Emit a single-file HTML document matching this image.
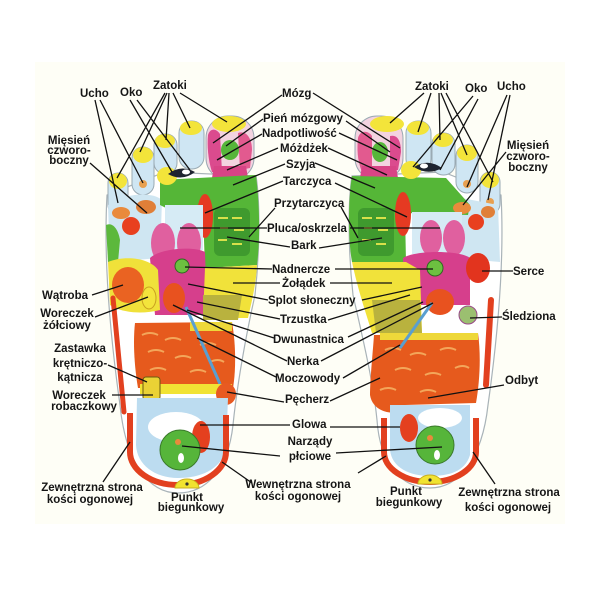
<!DOCTYPE html>
<html><head><meta charset="utf-8">
<style>
html,body{margin:0;padding:0;background:#fff;}
svg{display:block;}
text{font-family:"Liberation Sans","DejaVu Sans",sans-serif;font-weight:bold;font-size:11.5px;fill:#151515;}
</style></head><body>
<svg width="600" height="600" viewBox="0 0 600 600" xmlns="http://www.w3.org/2000/svg">
<rect width="600" height="600" fill="#fff"/>
<rect x="35" y="62" width="530" height="462" fill="#fefef6"/>

<!-- ================= LEFT FOOT ================= -->
<g>
 <path d="M107,195 C104,250 108,320 120,405 C126,465 150,493 178,493 C206,493 228,470 233,425 C237,385 246,335 255,295 C260,250 260,200 256,176 L165,172 Z" fill="#fff" stroke="#a9b3b8" stroke-width="1.2"/>
 <!-- toes -->
 <rect x="108" y="173" width="20" height="42" rx="10" fill="#cfe6f3" stroke="#9aaab3"/>
 <rect x="132" y="147" width="22" height="48" rx="11" fill="#cfe6f3" stroke="#9aaab3"/>
 <rect x="154" y="134" width="23" height="40" rx="11" fill="#cfe6f3" stroke="#9aaab3"/>
 <rect x="179" y="121" width="25" height="48" rx="12" fill="#cfe6f3" stroke="#9aaab3"/>
 <rect x="206" y="116" width="48" height="64" rx="22" fill="#f3d3e0" stroke="#9aaab3"/>
 <path d="M208,135 C210,128 216,128 220,134 L222,172 L212,172 C208,160 207,145 208,135 Z" fill="#db4b8e"/>
 <path d="M238,133 C246,130 252,138 252,150 L250,168 L240,170 Z" fill="#e25a8f"/>
 <ellipse cx="230" cy="150" rx="9" ry="10" fill="#56b63a"/>
 <path d="M214,166 L246,166 L248,178 L212,178 Z" fill="#d84486"/>
 <ellipse cx="229" cy="124" rx="17" ry="8" fill="#f3e43a"/>
 <ellipse cx="191" cy="128" rx="11" ry="7" fill="#f3e43a"/>
 <ellipse cx="165" cy="141" rx="10" ry="7" fill="#f3e43a"/>
 <ellipse cx="143" cy="155" rx="10" ry="8" fill="#f3e43a"/>
 <ellipse cx="118" cy="181" rx="9" ry="8" fill="#f3e43a"/>
 <circle cx="118" cy="204" r="4" fill="#e8a050"/>
 <circle cx="143" cy="184" r="4" fill="#e8a050"/>
 <!-- outer region -->
 <path d="M108,205 C120,195 150,190 162,200 L160,258 L110,262 Z" fill="#cfe6f2"/>
 <path d="M106,225 C112,222 118,228 120,240 L118,262 L108,262 Z" fill="#5cb83c"/>
 <ellipse cx="121" cy="213" rx="9" ry="6" fill="#e98a3c"/>
 <ellipse cx="146" cy="207" rx="10" ry="7" fill="#e07f38"/>
 <circle cx="131" cy="226" r="9" fill="#e8401f"/>
 <!-- green -->
 <path d="M160,180 L256,175 C260,210 260,240 257,265 L205,268 L203,212 L178,214 L160,205 Z" fill="#55b637"/>
 <rect x="214" y="208" width="36" height="48" rx="6" fill="#3f9a2e"/>
 <path d="M218,218 h10 M232,218 h10 M220,228 h8 M234,230 h10 M218,240 h9 M232,244 h10" stroke="#d8e04a" stroke-width="2"/>
 <!-- eye -->
 <ellipse cx="167" cy="176" rx="10" ry="9" fill="#f3e43a"/>
 <path d="M168,174 Q181,164 195,172 Q182,182 168,174 Z" fill="#1e2430"/>
 <ellipse cx="186" cy="172" rx="4" ry="2.5" fill="#fff"/>
 <ellipse cx="205" cy="216" rx="8" ry="22" fill="#e53a22"/>
 <!-- lungs -->
 <rect x="165" y="205" width="38" height="45" fill="#d6ebf5"/>
 <ellipse cx="163" cy="243" rx="12" ry="20" fill="#e0609f"/>
 <ellipse cx="189" cy="243" rx="12" ry="20" fill="#e0609f"/>
 <!-- magenta -->
 <path d="M150,258 C160,248 195,246 205,252 L207,315 L155,315 Z" fill="#d63f8c"/>
 <circle cx="182" cy="266" r="7" fill="#6cc040" stroke="#2f6a20"/>
 <!-- stomach yellow -->
 <path d="M205,268 L257,265 C256,285 252,300 248,318 L203,318 Z" fill="#f1e23a"/>
 <path d="M203,295 L242,295 L238,320 L203,320 Z" fill="#b9b23e"/>
 <!-- liver -->
 <path d="M108,262 C125,255 150,258 158,270 L160,310 C140,315 120,312 110,305 Z" fill="#f0e13a"/>
 <ellipse cx="128" cy="285" rx="16" ry="18" fill="#ea6322"/>
 <ellipse cx="149" cy="298" rx="7" ry="11" fill="#f3e43c" stroke="#c9a020"/>
 <ellipse cx="174" cy="298" rx="11" ry="15" fill="#e8521f"/>
 <!-- intestines -->
 <path d="M135,323 L232,322 C236,345 236,370 233,388 L138,388 C134,365 133,340 135,323 Z" fill="#e65a1d"/>
 <rect x="190" y="322" width="42" height="9" fill="#eed83a"/>
 <path d="M142,335 q8,-4 16,0 M165,340 q8,-4 16,0 M148,352 q8,-4 16,0 M175,358 q8,-4 16,0 M200,345 q8,-4 16,0 M150,370 q8,-4 16,0 M190,372 q8,-4 16,0 M210,362 q8,-4 14,0" stroke="#f3a65a" stroke-width="2" fill="none"/>
 <line x1="186" y1="307" x2="220" y2="384" stroke="#5a9fd0" stroke-width="3"/>
 <rect x="140" y="384" width="92" height="10" fill="#f1e334"/>
 <rect x="143" y="377" width="17" height="23" rx="3" fill="#ead235" stroke="#6b5a10"/>
 <ellipse cx="226" cy="394" rx="10" ry="11" fill="#e85a22"/>
 <line x1="113" y1="298" x2="124" y2="412" stroke="#e2401f" stroke-width="5" stroke-linecap="round"/>
 <!-- heel -->
 <path d="M137,398 L228,398 L226,450 C220,470 200,478 178,478 C155,478 137,465 136,445 Z" fill="#bcdcf0"/>
 <ellipse cx="176" cy="427" rx="28" ry="15" fill="#fff"/>
 <path d="M130,413 L130,452 A48,33 0 0 0 226,452 L226,415" stroke="#e2401f" stroke-width="6" fill="none"/>
 <ellipse cx="201" cy="437" rx="9" ry="16" fill="#e4401f"/>
 <circle cx="180" cy="450" r="20" fill="#56b53a" stroke="#3a7a2a"/>
 <circle cx="178" cy="442" r="3" fill="#e98a3c"/>
 <ellipse cx="181" cy="458" rx="3" ry="5" fill="#fff"/>
 <path d="M175,488 A12,9 0 0 1 199,488 Z" fill="#f1e330" stroke="#c9b020"/>
 <circle cx="187" cy="484" r="1.6" fill="#333"/>
</g>

<!-- ================= RIGHT FOOT ================= -->
<g>
 <path d="M501,195 C504,250 500,320 488,405 C482,460 458,488 430,488 C402,488 380,465 377,420 C373,380 362,335 353,295 C348,250 348,200 352,176 L443,172 Z" fill="#fff" stroke="#a9b3b8" stroke-width="1.2"/>
 <rect x="480" y="172" width="20" height="42" rx="10" fill="#cfe6f3" stroke="#9aaab3"/>
 <rect x="456" y="145" width="22" height="48" rx="11" fill="#cfe6f3" stroke="#9aaab3"/>
 <rect x="432" y="133" width="23" height="42" rx="11" fill="#cfe6f3" stroke="#9aaab3"/>
 <rect x="406" y="121" width="25" height="50" rx="12" fill="#cfe6f3" stroke="#9aaab3"/>
 <rect x="355" y="116" width="48" height="64" rx="22" fill="#f3d3e0" stroke="#9aaab3"/>
 <path d="M358,138 C360,130 368,130 372,136 L372,172 L362,172 C357,160 357,148 358,138 Z" fill="#e25a8f"/>
 <ellipse cx="380" cy="152" rx="8" ry="10" fill="#56b63a"/>
 <path d="M390,136 C398,134 401,142 401,152 L398,170 L390,170 Z" fill="#db4b8e"/>
 <path d="M362,166 L396,166 L398,178 L360,178 Z" fill="#d84486"/>
 <ellipse cx="387" cy="124" rx="17" ry="8" fill="#f3e43a"/>
 <ellipse cx="418" cy="128" rx="11" ry="7" fill="#f3e43a"/>
 <ellipse cx="443" cy="140" rx="10" ry="7" fill="#f3e43a"/>
 <ellipse cx="467" cy="153" rx="10" ry="8" fill="#f3e43a"/>
 <ellipse cx="490" cy="180" rx="9" ry="8" fill="#f3e43a"/>
 <circle cx="467" cy="184" r="4" fill="#e8a050"/>
 <circle cx="490" cy="202" r="4" fill="#e8a050"/>
 <path d="M446,195 L498,205 L500,262 L455,258 Z" fill="#cfe6f2"/>
 <path d="M352,176 L446,178 L470,205 L468,215 L405,213 L406,262 L352,262 C348,240 348,200 352,176 Z" fill="#55b637"/>
 <rect x="358" y="208" width="36" height="48" rx="6" fill="#3f9a2e"/>
 <path d="M362,218 h10 M376,218 h10 M364,228 h8 M378,230 h10 M362,240 h9 M376,244 h10" stroke="#d8e04a" stroke-width="2"/>
 <ellipse cx="462" cy="208" rx="9" ry="6" fill="#e98a3c"/>
 <ellipse cx="488" cy="212" rx="7" ry="6" fill="#e07f38"/>
 <circle cx="476" cy="222" r="8" fill="#e8401f"/>
 <ellipse cx="411" cy="170" rx="10" ry="9" fill="#f3e43a"/>
 <path d="M414,167 Q428,158 442,168 Q428,176 414,167 Z" fill="#1e2430"/>
 <ellipse cx="424" cy="166" rx="4" ry="2.5" fill="#fff"/>
 <ellipse cx="403" cy="214" rx="8" ry="22" fill="#e53a22"/>
 <rect x="412" y="212" width="50" height="42" fill="#d6ebf5"/>
 <ellipse cx="431" cy="238" rx="11" ry="18" fill="#e0609f"/>
 <ellipse cx="454" cy="238" rx="11" ry="18" fill="#e0609f"/>
 <path d="M403,258 C415,250 460,250 470,258 L470,305 L405,305 Z" fill="#d63f8c"/>
 <circle cx="435" cy="268" r="8" fill="#6cc040" stroke="#2f6a20"/>
 <ellipse cx="478" cy="268" rx="12" ry="15" fill="#e2341e"/>
 <path d="M352,262 L406,262 L420,270 L422,333 L372,333 C365,310 358,290 352,262 Z" fill="#f1e23a"/>
 <path d="M372,300 L420,300 L422,333 L376,333 Z" fill="#b9b23e"/>
 <ellipse cx="440" cy="302" rx="14" ry="13" fill="#e8521f"/>
 <circle cx="468" cy="315" r="9" fill="#9bbf70" stroke="#9a4a8a"/>
 <line x1="491" y1="300" x2="486" y2="385" stroke="#e2401f" stroke-width="6" stroke-linecap="round"/>
 <path d="M374,335 L478,333 C481,355 480,380 476,403 L405,405 L400,412 C385,415 372,408 370,395 C370,380 373,350 374,335 Z" fill="#e65a1d"/>
 <rect x="380" y="333" width="98" height="7" fill="#eed83a"/>
 <path d="M385,350 q8,-4 16,0 M410,355 q8,-4 16,0 M440,350 q8,-4 16,0 M395,370 q8,-4 16,0 M425,375 q8,-4 16,0 M455,368 q8,-4 14,0 M380,390 q8,-4 16,0 M420,392 q8,-4 16,0" stroke="#f3a65a" stroke-width="2" fill="none"/>
 <line x1="432" y1="303" x2="400" y2="348" stroke="#5a9fd0" stroke-width="3"/>
 <path d="M390,405 L470,405 L470,455 C465,472 448,476 430,476 C410,476 392,468 390,450 Z" fill="#bcdcf0"/>
 <ellipse cx="440" cy="418" rx="22" ry="10" fill="#fff"/>
 <path d="M384,418 L384,452 A46,30 0 0 0 476,452 L476,418" stroke="#e2401f" stroke-width="6" fill="none"/>
 <ellipse cx="409" cy="428" rx="9" ry="14" fill="#e4401f"/>
 <circle cx="435" cy="445" r="19" fill="#56b53a" stroke="#3a7a2a"/>
 <circle cx="430" cy="438" r="3" fill="#e98a3c"/>
 <ellipse cx="437" cy="455" rx="3" ry="5" fill="#fff"/>
 <path d="M418,484 A12,9 0 0 1 442,484 Z" fill="#f1e330" stroke="#c9b020"/>
 <circle cx="430" cy="480" r="1.6" fill="#333"/>
</g>

<!-- ================= CONNECTORS ================= -->
<path fill="none" stroke="#111" stroke-width="1.3" d="
M95,100 L118,203 M100,100 L143,183 M130,100 L172,172 M137,100 L190,170
M165,93 L117,178 M167,93 L140,152 M169,93 L166,140 M173,93 L190,128 M180,93 L227,122
M90,163 L147,213
M282,95 L213,143 M263,119 L226,146 M262,134 L217,160 M278,148 L227,170 M285,164 L233,185
M283,181 L205,213 M275,208 L249,237 M267,228 L180,228 M290,247 L227,237
M272,269 L185,267 M280,283 L233,283 M268,300 L188,284 M280,319 L197,302 M274,338 L187,310
M287,361 L173,305 M276,377 L197,338 M284,402 L227,392 M290,425 L200,425 M280,456 L182,446
M252,483 L222,462 M103,482 L130,442
M313,93 L400,148 M346,121 L390,152 M339,133 L397,160 M328,148 L387,175 M315,163 L375,188
M335,183 L407,217 M341,207 L358,238 M350,228 L440,228 M319,248 L382,238
M335,269 L433,269 M330,283 L392,283 M362,300 L422,287 M328,320 L410,295 M348,337 L423,302
M321,361 L433,303 M343,378 L400,345 M330,401 L380,378 M330,427 L400,427 M336,453 L442,447
M358,473 L386,456 M495,484 L473,452
M513,271 L482,271 M502,317 L470,318 M504,385 L428,398
M424,93 L390,123 M431,93 L418,132 M439,93 L440,140 M441,93 L467,155 M446,93 L493,182
M473,96 L413,167 M478,99 L440,170
M507,95 L467,187 M510,95 L488,200
M506,152 L463,205
M92,295 L123,285 M95,317 L148,297 M108,365 L147,382 M112,395 L153,395
"/>

<!-- ================= LABELS ================= -->
<text x="80" y="97">Ucho</text>
<text x="120" y="96">Oko</text>
<text x="153" y="89">Zatoki</text>
<text x="69" y="144" text-anchor="middle">Mięsień</text>
<text x="69" y="154" text-anchor="middle">czworo-</text>
<text x="69" y="164" text-anchor="middle">boczny</text>

<text x="415" y="90">Zatoki</text>
<text x="465" y="92">Oko</text>
<text x="497" y="90">Ucho</text>
<text x="528" y="149" text-anchor="middle">Mięsień</text>
<text x="528" y="160" text-anchor="middle">czworo-</text>
<text x="528" y="171" text-anchor="middle">boczny</text>

<text x="282" y="97">Mózg</text>
<text x="263" y="122">Pień mózgowy</text>
<text x="262" y="137">Nadpotliwość</text>
<text x="280" y="152">Móżdżek</text>
<text x="286" y="168">Szyja</text>
<text x="283" y="185">Tarczyca</text>
<text x="274" y="207">Przytarczyca</text>
<text x="267" y="232">Pluca/oskrzela</text>
<text x="291" y="249">Bark</text>
<text x="272" y="273">Nadnercze</text>
<text x="282" y="287">Żołądek</text>
<text x="268" y="304">Splot słoneczny</text>
<text x="280" y="323">Trzustka</text>
<text x="273" y="343">Dwunastnica</text>
<text x="287" y="365">Nerka</text>
<text x="275" y="382">Moczowody</text>
<text x="285" y="403">Pęcherz</text>
<text x="292" y="428">Glowa</text>
<text x="310" y="445" text-anchor="middle">Narządy</text>
<text x="310" y="460" text-anchor="middle">płciowe</text>
<text x="298" y="488" text-anchor="middle">Wewnętrzna strona</text>
<text x="298" y="500" text-anchor="middle">kości ogonowej</text>

<text x="42" y="299">Wątroba</text>
<text x="67" y="317" text-anchor="middle">Woreczek</text>
<text x="67" y="329" text-anchor="middle">żółciowy</text>
<text x="80" y="352" text-anchor="middle">Zastawka</text>
<text x="80" y="367" text-anchor="middle">krętniczo-</text>
<text x="80" y="381" text-anchor="middle">kątnicza</text>
<text x="79" y="399" text-anchor="middle">Woreczek</text>
<text x="84" y="410" text-anchor="middle">robaczkowy</text>

<text x="513" y="275">Serce</text>
<text x="502" y="320">Śledziona</text>
<text x="505" y="384">Odbyt</text>

<text x="92" y="491" text-anchor="middle">Zewnętrzna strona</text>
<text x="90" y="503" text-anchor="middle">kości ogonowej</text>
<text x="187" y="501" text-anchor="middle">Punkt</text>
<text x="191" y="511" text-anchor="middle">biegunkowy</text>

<text x="406" y="495" text-anchor="middle">Punkt</text>
<text x="409" y="506" text-anchor="middle">biegunkowy</text>
<text x="509" y="496" text-anchor="middle">Zewnętrzna strona</text>
<text x="508" y="511" text-anchor="middle">kości ogonowej</text>
</svg>
</body></html>
